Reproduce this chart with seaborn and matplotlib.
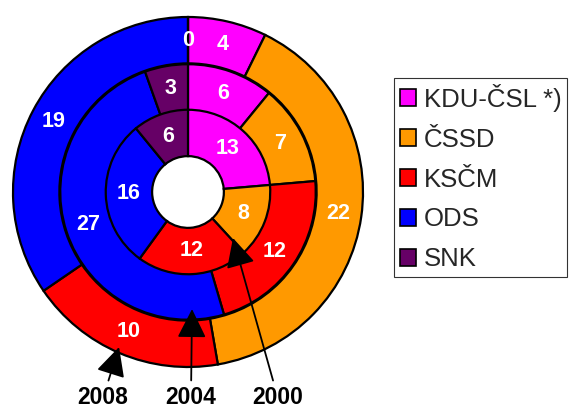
import matplotlib
matplotlib.use("Agg")
import matplotlib.pyplot as plt
from matplotlib.patches import Patch
import seaborn as sns

parties = ["KDU-ČSL *)", "ČSSD", "KSČM", "ODS", "SNK"]
colors = ["#FF00FF", "#FF9900", "#FF0000", "#0000FF", "#660066"]
years = ["2000", "2004", "2008"]
seats_2000 = [13, 8, 12, 16, 6]
seats_2004 = [6, 7, 12, 27, 3]
seats_2008 = [4, 22, 10, 19, 0]

sns.set_theme(style="white")
plt.rcParams["font.family"] = ["Liberation Sans", "DejaVu Sans"]

fig = plt.figure(figsize=(5.7, 4.11), dpi=100)
ax = fig.add_axes([13 / 570, 44 / 411, 350 / 570, 350 / 411])

rings = [(seats_2008, 1.0), (seats_2004, 0.73), (seats_2000, 0.47)]
width = 0.265
for vals, r in rings:
    total = sum(vals)
    mid = r - width / 2
    ax.pie(vals, radius=r, colors=colors, startangle=90, counterclock=False,
           wedgeprops=dict(width=width, edgecolor="black", linewidth=1.6),
           autopct=lambda p, t=total: f"{round(p * t / 100):d}",
           pctdistance=mid / r,
           textprops=dict(color="white", fontsize=15.5, fontweight="bold"))

ax.set_xlim(-1.0, 1.0)
ax.set_ylim(-1.0, 1.0)
ax.set_aspect("equal")

# year annotations (arrow tip positions in each ring)
tips = {"2008": (-0.394, -0.886), "2004": (0.023, -0.669), "2000": (0.257, -0.263)}
texts = {"2008": (-0.486, -1.177), "2004": (0.017, -1.177), "2000": (0.514, -1.177)}
for y in years:
    ax.annotate(y, xy=tips[y], xytext=texts[y], ha="center", va="center",
                fontsize=16.5, fontweight="bold", color="black",
                annotation_clip=False,
                arrowprops=dict(arrowstyle="-|>,head_length=0.4,head_width=0.2",
                                mutation_scale=45,
                                color="black", lw=1.3, shrinkA=2, shrinkB=0))

handles = [Patch(facecolor=c, edgecolor="black", linewidth=1.2) for c in colors]
leg = fig.legend(handles, parties, loc="upper left",
                 bbox_to_anchor=(394 / 570, 1 - 78 / 411),
                 borderaxespad=0, fontsize=18.5, frameon=True, fancybox=False,
                 handlelength=0.65, handleheight=0.65, handletextpad=0.3,
                 borderpad=0.22, labelspacing=0.62)
leg.get_frame().set_edgecolor("black")
leg.get_frame().set_linewidth(0.8)

fig.savefig("out.png", dpi=100, facecolor="white")
